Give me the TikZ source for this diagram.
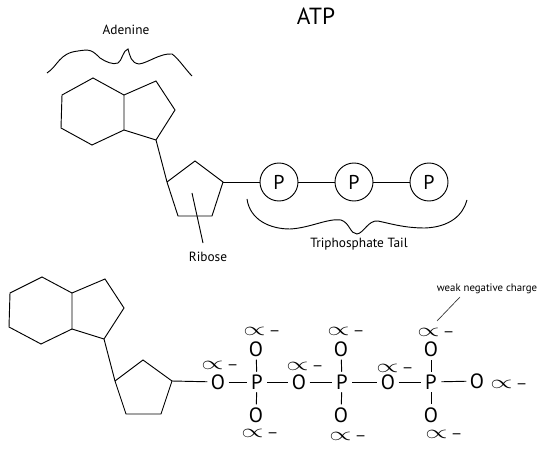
\documentclass[tikz,border=0pt]{standalone}
\usepackage{fontspec}
\setmainfont{PT Sans}
\tikzset{
  ln/.style={draw=black,line width=0.7pt,line join=miter},
  lab/.style={inner sep=0pt,font=\fontsize{10}{12}\selectfont},
  atom/.style={circle,inner sep=0pt,minimum size=15pt,font=\fontsize{15.5}{16}\selectfont},
  pcirc/.style={circle,draw=black,line width=0.7pt,inner sep=0pt,minimum size=28.5pt,font=\fontsize{15}{16}\selectfont},
  chg/.style={anchor=west,inner sep=0pt,yshift=-2pt,font=\fontsize{11}{12}\selectfont},
}
\newcommand{\chgtext}{\smash{\scalebox{1.95}[1.3]{$\propto$}}\hspace{2.5pt}\scalebox{1.25}[1]{--}}
\begin{document}
\begin{tikzpicture}[x=0.75pt,y=-0.75pt]
\useasboundingbox (0,0) rectangle (540,460);
% labels
\node[inner sep=0pt,font=\fontsize{17.5}{18}\selectfont] (title) at (316,16) {ATP};
\node[lab] (adenine) at (126,30) {Adenine};
\node[lab] (ribose) at (208,257) {Ribose};
\node[lab] (tail) at (359,244) {Triphosphate Tail};
\node[inner sep=0pt,font=\fontsize{8.1}{9}\selectfont] (weak) at (487,289) {weak negative charge};
% top rings
\coordinate (a1) at (93,78); \coordinate (a2) at (62,95); \coordinate (a3) at (61,128);
\coordinate (a4) at (92,145); \coordinate (a5) at (124,130); \coordinate (a6) at (124,95);
\coordinate (a7) at (156,81); \coordinate (a8) at (175,110); \coordinate (a9) at (156,140);
\coordinate (r1) at (167,182); \coordinate (r2) at (195,161); \coordinate (r3) at (223,182);
\coordinate (r4) at (212,216); \coordinate (r5) at (178,216);
\coordinate (rin) at (192,193); \coordinate (rout) at (203,243);
\draw[ln] (a1)--(a2)--(a3)--(a4)--(a5)--(a6)--cycle;
\draw[ln] (a6)--(a7)--(a8)--(a9)--(a5);
\draw[ln] (a9)--(r1);
\draw[ln] (r1)--(r2)--(r3)--(r4)--(r5)--cycle;
\draw[ln] (rin)--(rout);
\node[pcirc] (p1) at (279,182) {P};
\node[pcirc] (p2) at (354,182) {P};
\node[pcirc] (p3) at (429,182) {P};
\draw[ln] (r3)--(p1); \draw[ln] (p1)--(p2); \draw[ln] (p2)--(p3);
% braces
\draw[ln] (47,73) .. controls (58,66) and (59,53) .. (78,51) .. controls (90,49) and (92,50) .. (100,58)
  .. controls (106,62) and (113,65) .. (118,63) .. controls (122,61) and (123,50) .. (128,49)
  .. controls (130,56) and (131,63) .. (139,64) .. controls (148,63) and (160,53) .. (172,54)
  .. controls (178,58) and (186,70) .. (192,76);
\draw[ln] (247,199) .. controls (250,220) and (270,229) .. (290,229) .. controls (310,228) and (328,218) .. (341,220)
  .. controls (350,223) and (350,234) .. (357,234) .. controls (364,233) and (368,220) .. (378,221)
  .. controls (392,224) and (405,228) .. (425,228) .. controls (450,227) and (463,215) .. (467,200);
% bottom rings
\coordinate (b1) at (42,277); \coordinate (b2) at (10,293); \coordinate (b3) at (9,327);
\coordinate (b4) at (41,344); \coordinate (b5) at (72,329); \coordinate (b6) at (72,293);
\coordinate (b7) at (105,279); \coordinate (b8) at (124,308); \coordinate (b9) at (104,339);
\coordinate (s1) at (115,381); \coordinate (s2) at (143,360); \coordinate (s3) at (172,381);
\coordinate (s4) at (161,414); \coordinate (s5) at (126,414);
\draw[ln] (b1)--(b2)--(b3)--(b4)--(b5)--(b6)--cycle;
\draw[ln] (b6)--(b7)--(b8)--(b9)--(b5);
\draw[ln] (b9)--(s1);
\draw[ln] (s1)--(s2)--(s3)--(s4)--(s5)--cycle;
% phosphate chain
\node[atom] (O0) at (218,382) {O};
\node[atom] (P1) at (257,382) {P};
\node[atom] (O1t) at (256,349) {O};
\node[atom] (O1b) at (256,415) {O};
\node[atom] (O1) at (299,382) {O};
\node[atom] (P2) at (342,382) {P};
\node[atom] (O2t) at (341,349) {O};
\node[atom] (O2b) at (341,415) {O};
\node[atom] (O2) at (388,382) {O};
\node[atom] (P3) at (431,382) {P};
\node[atom] (O3t) at (431,349) {O};
\node[atom] (O3b) at (431,415) {O};
\node[atom] (O3) at (477,381) {O};
\draw[ln] (s3)--(O0); \draw[ln] (O0)--(P1); \draw[ln] (P1)--(O1); \draw[ln] (O1)--(P2);
\draw[ln] (P2)--(O2); \draw[ln] (O2)--(P3); \draw[ln] (P3)--(O3);
\draw[ln] (P1)--(O1t); \draw[ln] (P1)--(O1b);
\draw[ln] (P2)--(O2t); \draw[ln] (P2)--(O2b);
\draw[ln] (P3)--(O3t); \draw[ln] (P3)--(O3b);
% charges
\node[chg] (c1) at (243,330) {\chgtext};
\node[chg] (c2) at (201,364) {\chgtext};
\node[chg] (c3) at (241,432) {\chgtext};
\node[chg] (c4) at (286,365) {\chgtext};
\node[chg] (c5) at (327,330) {\chgtext};
\node[chg] (c6) at (329,435) {\chgtext};
\node[chg] (c7) at (417,331) {\chgtext};
\node[chg] (c8) at (376,367) {\chgtext};
\node[chg] (c9) at (490,383) {\chgtext};
\node[chg] (c10) at (425,433) {\chgtext};
\coordinate (lead) at (437,321);
\coordinate (leadtop) at (460,297);
\draw[line width=0.5pt,draw=black!80] (leadtop)--(lead);
\end{tikzpicture}
\end{document}
